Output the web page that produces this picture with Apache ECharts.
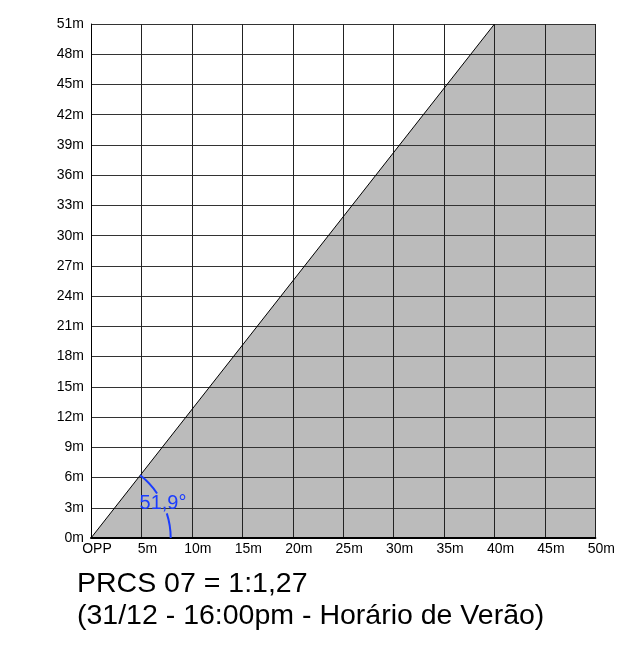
<!DOCTYPE html>
<html>
<head>
<meta charset="utf-8">
<script src="https://cdn.jsdelivr.net/npm/echarts@6/dist/echarts.min.js"></script>
<style>
  html, body { margin: 0; padding: 0; background: #fff; }
  #chart { width: 618px; height: 645px; }
</style>
</head>
<body>
<div id="chart"></div>
<script>
"use strict";

// 阴影区域（m）
const shadowX = [0, 40, 50];
const shadowY = [0, 51, 51];
// 对角线
const edgeX = [0, 40];
const edgeY = [0, 51];
const angleText = "51,9°";
const arcRadiusM = 7.9;          // 角度弧半径（按 x 轴米数）
const titleLines = ["PRCS 07 = 1:1,27", "(31/12 - 16:00pm - Horário de Verão)"];

const FONT = "'Liberation Sans', Arial, sans-serif";

document.addEventListener("DOMContentLoaded", () => {
  const dom = document.getElementById("chart");
  const chart = echarts.init(dom, null, { renderer: "canvas" });

  chart.setOption({
    animation: false,
    backgroundColor: "#fff",
    title: {
      text: titleLines.join("\n"),
      left: 72, top: 563,
      textStyle: { fontFamily: FONT, fontSize: 28.5, fontWeight: "normal", color: "#000", lineHeight: 32 }
    },
    grid: { left: 91, right: 22, top: 24, bottom: 107 },
    xAxis: {
      type: "value", min: 0, max: 50, interval: 5, z: 5,
      axisLine: { lineStyle: { color: "#000", width: 2 } },
      axisTick: { show: false },
      axisLabel: {
        fontFamily: FONT, fontSize: 14, color: "#000", margin: 4,
        padding: [0, 0, 0, 12],
        formatter: v => v === 0 ? "OPP" : v + "m"
      },
      splitLine: { show: true, lineStyle: { color: "#222", width: 1 } }
    },
    yAxis: {
      type: "value", min: 0, max: 51, interval: 3, z: 5,
      axisLine: { show: true, lineStyle: { color: "#000", width: 1 } },
      axisTick: { show: false },
      axisLabel: { fontFamily: FONT, fontSize: 14, color: "#000", margin: 7, formatter: v => v + "m" },
      splitLine: { show: true, lineStyle: { color: "#333", width: 1 } }
    },
    series: [
      {
        type: "line", symbol: "none", z: 2,
        data: shadowX.map((x, i) => [x, shadowY[i]]),
        lineStyle: { width: 0 },
        areaStyle: { color: "#bbbbbb", opacity: 1, origin: "start" }
      },
      {
        type: "line", symbol: "none", z: 6,
        data: edgeX.map((x, i) => [x, edgeY[i]]),
        lineStyle: { color: "#000", width: 1 }
      }
    ]
  });

  // 角度弧线与标注
  const o = chart.convertToPixel({ gridIndex: 0 }, [0, 0]);
  const top = chart.convertToPixel({ gridIndex: 0 }, [edgeX[1], edgeY[1]]);
  const r = chart.convertToPixel({ gridIndex: 0 }, [arcRadiusM, 0])[0] - o[0];
  const lineAng = Math.atan2(top[1] - o[1], top[0] - o[0]);
  const deg = Math.PI / 180;
  const arcStyle = { stroke: "#1a3cff", lineWidth: 2, fill: null };

  chart.setOption({
    graphic: [
      { type: "arc", z: 10, shape: { cx: o[0], cy: o[1], r: r, startAngle: lineAng, endAngle: -34 * deg }, style: arcStyle },
      { type: "arc", z: 10, shape: { cx: o[0], cy: o[1], r: r, startAngle: -18 * deg, endAngle: 0 }, style: arcStyle },
      {
        type: "text", z: 10, x: o[0] + 72, y: o[1] - 35,
        style: { text: angleText, font: "20px " + FONT, fill: "#1a3cff", align: "center", verticalAlign: "middle" }
      }
    ]
  });
});
</script>
</body>
</html>
